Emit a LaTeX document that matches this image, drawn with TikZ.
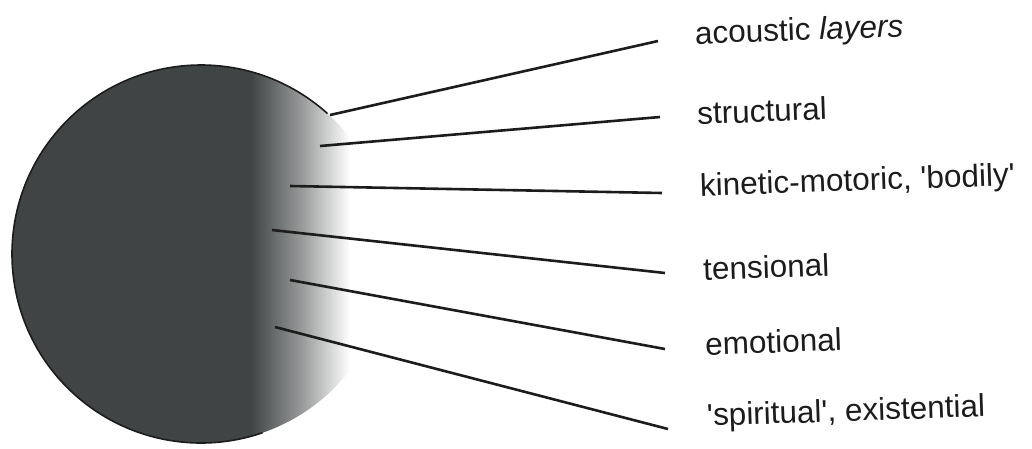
\documentclass[tikz,border=0pt]{standalone}
\usepackage{fontspec}
\setmainfont{Liberation Sans}
\definecolor{ballgray}{RGB}{64,68,68}
\definecolor{inkc}{RGB}{28,28,28}
\begin{document}
\begin{tikzpicture}[x=1pt,y=-1pt,
  lbl/.style={anchor=west,inner sep=0pt,rotate=2,text=inkc,font=\fontsize{31.5}{36}\selectfont},
  ray/.style={draw=inkc,line width=2.6pt}]
\useasboundingbox (0,0) rectangle (1032,448);
% ball
\begin{scope}
  \clip (201,254) circle (189);
  \fill[ballgray] (0,60) rectangle (252,450);
  \shade[left color=ballgray,right color=white,middle color=ballgray!55] (251,60) rectangle (350,450);
  \fill[white] (349,60) rectangle (400,450);
\end{scope}
\draw[inkc,line width=1.6pt] (201,254) ++(48:189 and -189) arc[start angle=48,end angle=289,x radius=189,y radius=-189];
% ray start points
\coordinate (s1) at (330,115);
\coordinate (s2) at (320,146);
\coordinate (s3) at (290,186);
\coordinate (s4) at (272,230);
\coordinate (s5) at (290,280);
\coordinate (s6) at (275,327);
% ray end points
\coordinate (e1) at (658,41);
\coordinate (e2) at (660,117);
\coordinate (e3) at (662,193);
\coordinate (e4) at (665,273);
\coordinate (e5) at (665,349);
\coordinate (e6) at (668,429);
% labels
\node[lbl] (l1) at (695,36) {acoustic \textit{layers}};
\node[lbl] (l2) at (697,113) {structural};
\node[lbl] (l3) at (700,188) {kinetic-motoric, \textquotesingle bodily\textquotesingle};
\node[lbl] (l4) at (703,269) {tensional};
\node[lbl] (l5) at (705,344) {emotional};
\node[lbl] (l6) at (707,418) {\textquotesingle spiritual\textquotesingle, existential};
% rays
\foreach \i in {1,...,6} \draw[ray] (s\i) -- (e\i);
\end{tikzpicture}
\end{document}
